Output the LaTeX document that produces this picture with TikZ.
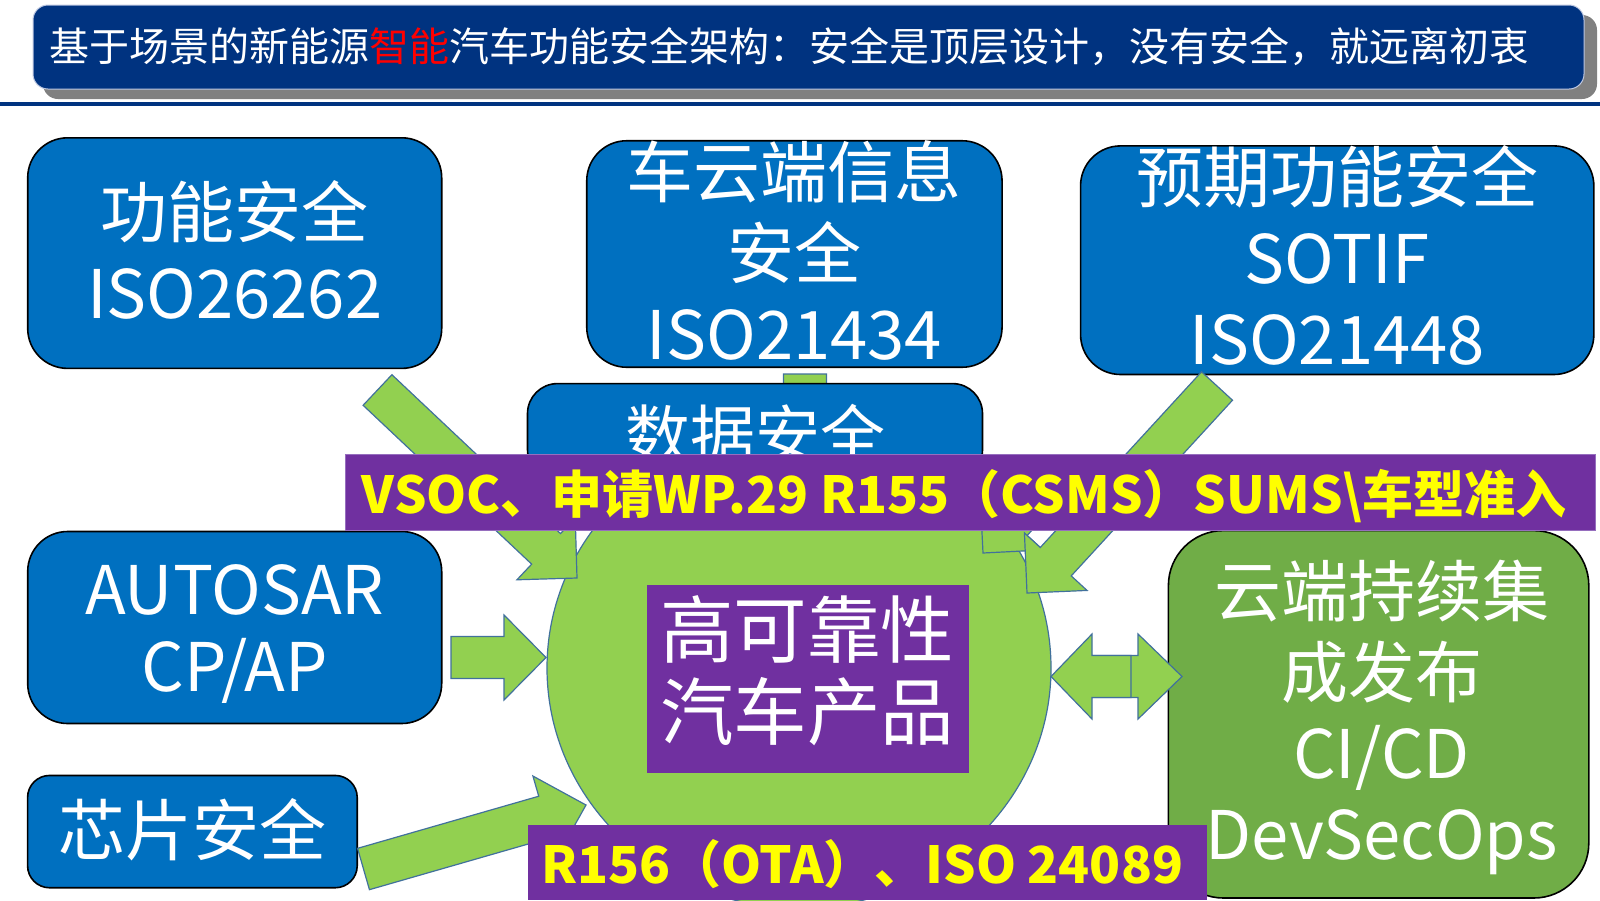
\documentclass[tikz,border=0pt]{standalone}
\usepackage{fontspec}
\newfontfamily\cjk{Noto Sans CJK SC}
\usetikzlibrary{calc,shapes.geometric}
\definecolor{navy}{RGB}{0,51,128}
\definecolor{boxblue}{RGB}{0,112,192}
\definecolor{lgreen}{RGB}{146,208,80}
\definecolor{dgreen}{RGB}{112,173,71}
\definecolor{edgeblue}{RGB}{65,113,156}
\definecolor{purp}{RGB}{112,48,160}
\definecolor{yel}{RGB}{255,255,0}
\definecolor{shadowgray}{RGB}{128,128,128}
\tikzset{
  arrowshape/.style={fill=lgreen, draw=edgeblue, line width=1.2pt, line join=miter},
  bluebox/.style={rectangle, rounded corners=40pt, fill=boxblue, draw=black, line width=1.6pt, inner sep=0pt, outer sep=0pt},
  greenbox/.style={rectangle, rounded corners=55pt, fill=dgreen, draw=black, line width=1.6pt, inner sep=0pt, outer sep=0pt},
  band/.style={rectangle, fill=purp, inner sep=0pt, outer sep=0pt},
  boxtext/.style={text=white, font=\cjk\fontsize{67}{81}\selectfont, align=center, inner sep=0pt},
  bandtext/.style={text=yel, font=\cjk\bfseries\fontsize{51}{60}\selectfont, inner sep=0pt},
}
\newcommand{\blockarrow}[5]{%
  \coordinate (bah) at ($(#2)!#5!(#1)$);
  \filldraw[arrowshape] ($(#1)!#3!90:(#2)$) -- ($(bah)!#3!90:(#2)$) -- ($(bah)!#4!90:(#2)$) -- (#2) -- ($(bah)!#4!-90:(#2)$) -- ($(bah)!#3!-90:(#2)$) -- ($(#1)!#3!-90:(#2)$) -- cycle;}
\begin{document}
\begin{tikzpicture}[x=1pt,y=-1pt]
\useasboundingbox (0,0) rectangle (1600,900);
\fill[white] (0,0) rectangle (1600,900);
% title banner
\fill[shadowgray, rounded corners=15pt] (43,15) rectangle (1597,99);
\filldraw[fill=navy, draw={rgb,255:red,190;green,200;blue,225}, line width=1pt, rounded corners=15pt] (33,5) rectangle (1584,89);
\draw[navy, line width=4.5pt] (0,104) -- (1600,104);
\node[anchor=west, text=white, font=\cjk\fontsize{40}{46}\selectfont, inner sep=0pt] (title) at (49,47)
  {基于场景的新能源\textcolor{red}{智能}汽车功能安全架构：安全是顶层设计，没有安全，就远离初衷};

% vertical arrow from the cloud security box (head hidden by the ellipse)
\coordinate (va0) at (805,374);
\coordinate (va1) at (805,540);
\blockarrow{va0}{va1}{21.5pt}{42.5pt}{42.5pt}

% central ellipse
\node[ellipse, fill=lgreen, draw=edgeblue, line width=1.2pt, minimum width=504pt, minimum height=480pt, inner sep=0pt] (car) at (799,668) {};

% boxes
\node[bluebox, minimum width=414pt, minimum height=230.6pt] (b1) at (234.7,253.1) {};
\node[boxtext] (b1t) at (234.7,249.5) {功能安全\\ISO26262};
\node[bluebox, minimum width=415.3pt, minimum height=226.5pt] (b2) at (794.4,254) {};
\node[boxtext] (b2t) at (794.4,250.5) {车云端信息\\安全\\ISO21434};
\node[bluebox, minimum width=513.3pt, minimum height=228.6pt] (b3) at (1337.2,260.2) {};
\node[boxtext] (b3t) at (1337.2,255.6) {预期功能安全\\SOTIF\\ISO21448};
\node[bluebox, minimum width=414pt, minimum height=192pt] (b5) at (234.7,627.5) {};
\node[boxtext, font=\cjk\fontsize{67}{77}\selectfont] (b5t) at (234.7,634) {AUTOSAR\\CP/AP};
\node[bluebox, rounded corners=22pt, minimum width=329.6pt, minimum height=112.3pt] (b6) at (192.4,831.6) {};
\node[boxtext] (b6t) at (192,829.6) {芯片安全};
\node[greenbox, minimum width=420.4pt, minimum height=367.4pt] (b7) at (1378.6,714.3) {};

% arrows
\coordinate (a1s) at (377.5,390);
\coordinate (a1t) at (577,578);
\blockarrow{a1s}{a1t}{21pt}{42.5pt}{42.5pt}
\coordinate (a3s) at (1217,386);
\coordinate (a3t) at (1027,593);
\coordinate (a4s) at (1040,490);
\coordinate (a4t) at (983,553);
\blockarrow{a4s}{a4t}{21pt}{42.5pt}{42.5pt}
\blockarrow{a3s}{a3t}{21pt}{42.5pt}{42.5pt}
\coordinate (a6s) at (363.5,869);
\coordinate (a6t) at (586,805);
\blockarrow{a6s}{a6t}{21.5pt}{42.5pt}{43pt}
\coordinate (a5s) at (451,657.5);
\coordinate (a5t) at (546,657.5);
\blockarrow{a5s}{a5t}{21pt}{42.5pt}{42pt}
\coordinate (d1s) at (1085,676.5);
\coordinate (d1t) at (1182,676.5);
\blockarrow{d1s}{d1t}{21pt}{42.5pt}{44pt}
\coordinate (d2s) at (1131,676.5);
\coordinate (d2t) at (1051,676.5);
\blockarrow{d2s}{d2t}{21pt}{42.5pt}{41pt}

% data security box
\node[bluebox, rounded corners=30pt, minimum width=455pt, minimum height=96pt] (b4) at (755,431.6) {};
\node[boxtext, font=\cjk\fontsize{65}{75}\selectfont] (b4t) at (755,435) {数据安全};

% purple bands
\node[band, draw={rgb,255:red,150;green,110;blue,190}, line width=0.8pt, minimum width=1250pt, minimum height=76.5pt] (band1) at (969.9,492.3) {};
\node[bandtext] (band1t) at (964,496) {VSOC、申请WP.29 R155（CSMS）SUMS\textbackslash 车型准入};
\node[band, minimum width=322.4pt, minimum height=187.8pt] (core) at (808.2,678.6) {};
\node[text=white, font=\cjk\fontsize{73.5}{82}\selectfont, align=center, inner sep=0pt] (coret) at (807,670.4) {高可靠性\\汽车产品};
\node[band, minimum width=679.6pt, minimum height=75.5pt] (band2) at (867.3,862.3) {};
\node[bandtext, anchor=west] (band2t) at (540.8,864.3) {R156（OTA）、ISO 24089};

\node[boxtext] (b7t) at (1381.6,717.9) {云端持续集\\成发布\\CI/CD\\DevSecOps};
\end{tikzpicture}
\end{document}
